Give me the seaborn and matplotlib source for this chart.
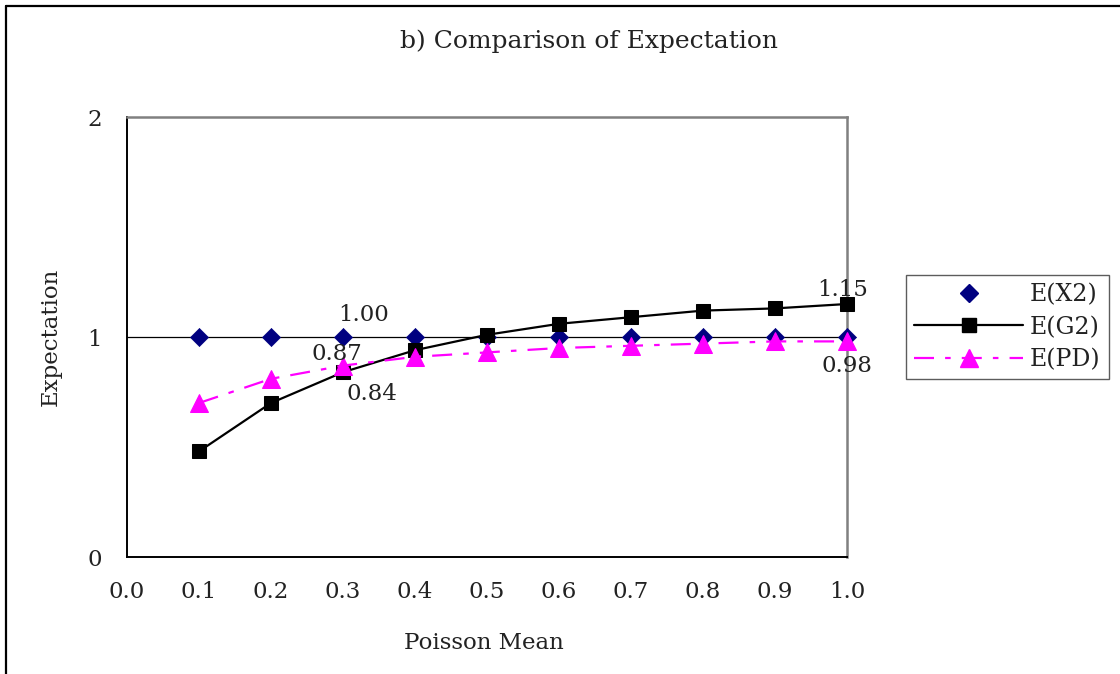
import numpy as np
import pandas as pd
import matplotlib
matplotlib.use("Agg")
import matplotlib.pyplot as plt
from matplotlib.lines import Line2D
import seaborn as sns

# Poisson mean values and expectations of the three statistics
poisson_mean = [0.1, 0.2, 0.3, 0.4, 0.5, 0.6, 0.7, 0.8, 0.9, 1.0]
e_x2 = [1.00, 1.00, 1.00, 1.00, 1.00, 1.00, 1.00, 1.00, 1.00, 1.00]
e_g2 = [0.48, 0.70, 0.84, 0.94, 1.01, 1.06, 1.09, 1.12, 1.13, 1.15]
e_pd = [0.70, 0.81, 0.87, 0.91, 0.93, 0.95, 0.96, 0.97, 0.98, 0.98]

x_ticks = [0.0, 0.1, 0.2, 0.3, 0.4, 0.5, 0.6, 0.7, 0.8, 0.9, 1.0]
x_tick_labels = ["0.0", "0.1", "0.2", "0.3", "0.4", "0.5", "0.6", "0.7", "0.8", "0.9", "1.0"]
y_ticks = [0, 1, 2]
y_tick_labels = ["0", "1", "2"]

series_names = ["E(X2)", "E(G2)", "E(PD)"]

sns.set_theme(style="white")
plt.rcParams["font.family"] = ["DejaVu Serif"]

df = pd.DataFrame({"mean": poisson_mean, "x2": e_x2, "g2": e_g2, "pd": e_pd})

PD_DASHES = [9, 5, 2.5, 5]

fig = plt.figure(figsize=(11.2, 6.74), dpi=100)
ax = fig.add_axes([127 / 1120, 1 - 557 / 674, 720 / 1120, 440 / 674])

# E(G2): solid black line with square markers
sns.lineplot(data=df, x="mean", y="g2", ax=ax, color="black", lw=1.6,
             marker="s", markersize=10.5, markeredgecolor="black",
             markerfacecolor="black", clip_on=False, zorder=4)
# E(PD): magenta dash-dot line with triangle markers
sns.lineplot(data=df, x="mean", y="pd", ax=ax, color="#FF00FF", lw=1.6,
             marker="^", markersize=13, markeredgecolor="#FF00FF",
             markerfacecolor="#FF00FF", clip_on=False, zorder=5)
ax.lines[-1].set_dashes(PD_DASHES)
# E(X2): navy diamonds only
sns.scatterplot(data=df, x="mean", y="x2", ax=ax, color="#000080", marker="D",
                s=85, edgecolor="#000080", linewidth=0.5, clip_on=False, zorder=3)

ax.set_xlim(0, 1)
ax.set_ylim(0, 2)
ax.set_xticks(x_ticks)
ax.set_xticklabels(x_tick_labels)
ax.set_yticks(y_ticks)
ax.set_yticklabels(y_tick_labels)

# single horizontal grid line at 1
ax.yaxis.grid(True, color="black", lw=0.9)
grid = ax.get_ygridlines()
grid[0].set_visible(False)
grid[2].set_visible(False)
ax.set_axisbelow(True)

ax.tick_params(axis="both", direction="inout", length=12, width=1.1,
               color="black", labelsize=16.5, labelcolor="#222222")
ax.tick_params(axis="x", pad=11)
ax.tick_params(axis="y", pad=12)

for side in ["left", "bottom"]:
    ax.spines[side].set_color("black")
    ax.spines[side].set_linewidth(1.4)
for side in ["top", "right"]:
    ax.spines[side].set_color("#808080")
    ax.spines[side].set_linewidth(1.8)
    ax.spines[side].set_visible(True)

ax.set_xlabel("Poisson Mean", fontsize=16.5, color="#222222")
ax.set_ylabel("Expectation", fontsize=16.5, color="#222222")
ax.xaxis.set_label_coords(0.496, -0.17)
ax.yaxis.set_label_coords(-0.090, 0.5)

fig.text(589 / 1120, 1 - 41 / 674, "b) Comparison of Expectation",
         ha="center", va="center", fontsize=18, color="#222222")

# value labels on selected points
label_kw = dict(textcoords="offset pixels", ha="center", va="center",
                fontsize=16.5, color="#222222", zorder=6)
ax.annotate(f"{e_x2[2]:.2f}", (poisson_mean[2], e_x2[2]), xytext=(21, 22), **label_kw)
ax.annotate(f"{e_pd[2]:.2f}", (poisson_mean[2], e_pd[2]), xytext=(-6, 12), **label_kw)
ax.annotate(f"{e_g2[2]:.2f}", (poisson_mean[2], e_g2[2]), xytext=(29, -22), **label_kw)
ax.annotate(f"{e_g2[9]:.2f}", (poisson_mean[9], e_g2[9]), xytext=(-4, 14), **label_kw)
ax.annotate(f"{e_pd[9]:.2f}", (poisson_mean[9], e_pd[9]), xytext=(0, -25), **label_kw)

# legend
handles = [
    Line2D([], [], linestyle="none", marker="D", markersize=9,
           color="#000080"),
    Line2D([], [], color="black", lw=1.6, marker="s", markersize=10.5),
    Line2D([], [], color="#FF00FF", lw=1.6, marker="^", markersize=13,
           dashes=PD_DASHES),
]
leg = fig.legend(handles, series_names, loc="upper left",
                 bbox_to_anchor=(906 / 1120, 1 - 275 / 674),
                 fontsize=17, frameon=True, fancybox=False, handlelength=4.6,
                 handletextpad=0.3, labelspacing=0.4, borderpad=0.35,
                 borderaxespad=0)
leg.get_frame().set_edgecolor("#333333")
leg.get_frame().set_linewidth(1.0)
for t in leg.get_texts():
    t.set_color("#222222")

# outer chart border (top and left edges)
fig.add_artist(Line2D([6 / 1120, 1.0], [1 - 6 / 674, 1 - 6 / 674],
                      color="black", lw=1.6, transform=fig.transFigure))
fig.add_artist(Line2D([6 / 1120, 6 / 1120], [0.0, 1 - 6 / 674],
                      color="black", lw=1.6, transform=fig.transFigure))

fig.savefig("out.png", dpi=100)
